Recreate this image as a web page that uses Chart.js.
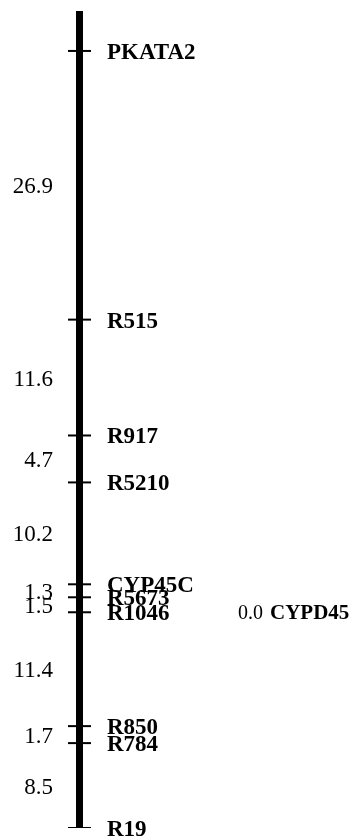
<!DOCTYPE html>
<html>
<head>
<meta charset="utf-8">
<script src="https://cdn.jsdelivr.net/npm/chart.js@4/dist/chart.umd.min.js"></script>
<style>
  html, body { margin: 0; padding: 0; background: #fff; }
  canvas { display: block; }
</style>
</head>
<body>
<canvas id="c" width="354" height="840"></canvas>
<script>
const markers   = ['PKATA2', 'R515', 'R917', 'R5210', 'CYP45C', 'R5673', 'R1046', 'R850', 'R784', 'R19'];
const intervals = [26.9, 11.6, 4.7, 10.2, 1.3, 1.5, 11.4, 1.7, 8.5];   // cM between consecutive markers
const intervalLabels = ['26.9', '11.6', '4.7', '10.2', '1.3', '1.5', '11.4', '1.7', '8.5'];
const sideMarkerName = ['CYPD45'];
const sideMarkerDist = ['0.0'];
const sideMarkerAt   = ['R1046'];
const chromStart = -4;       // chromosome bar drawn above first marker (cM)

// cumulative positions (cM) from the interval lengths
const positions = [0];
intervals.forEach((d, i) => positions.push(+(positions[i] + d).toFixed(2)));
const chromEnd = positions[positions.length - 1];

const tickPoints = positions.map(p => ({ x: 0, y: p }));

const SERIF = '"Liberation Serif", "Times New Roman", serif';

const labelPlugin = {
  id: 'labels',
  afterDatasetsDraw(chart) {
    const ctx = chart.ctx;
    const xs = chart.scales.x, ys = chart.scales.y;
    const bx = xs.getPixelForValue(0);
    ctx.save();
    ctx.fillStyle = '#000';
    ctx.textBaseline = 'alphabetic';
    // marker names
    ctx.font = 'bold 23px ' + SERIF;
    ctx.textAlign = 'left';
    markers.forEach((m, i) => {
      const y = ys.getPixelForValue(positions[i]);
      ctx.fillText(m, bx + 27.5, y + 8);
    });
    // interval distances
    ctx.font = '23px ' + SERIF;
    ctx.textAlign = 'right';
    intervalLabels.forEach((t, i) => {
      const y = ys.getPixelForValue((positions[i] + positions[i + 1]) / 2);
      ctx.fillText(t, bx - 26.5, y + 8);
    });
    // side marker
    sideMarkerName.forEach((n, k) => {
      const idx = markers.indexOf(sideMarkerAt[k]);
      const y = ys.getPixelForValue(positions[idx]);
      ctx.textAlign = 'left';
      ctx.font = '20px ' + SERIF;
      ctx.fillText(sideMarkerDist[k], bx + 158.5, y + 7);
      ctx.font = 'bold 21px ' + SERIF;
      ctx.fillText(n, bx + 190.5, y + 7);
    });
    ctx.restore();
  }
};

new Chart(document.getElementById('c'), {
  type: 'scatter',
  data: {
    datasets: [
      {
        type: 'line',
        data: [{ x: 0, y: chromStart }, { x: 0, y: chromEnd }],
        borderColor: '#000',
        borderWidth: 7,
        pointRadius: 0,
        fill: false
      },
      {
        data: tickPoints,
        pointStyle: 'line',
        pointRadius: 11.5,
        borderColor: '#000',
        backgroundColor: '#000',
        borderWidth: 2
      }
    ]
  },
  options: {
    responsive: false,
    animation: false,
    devicePixelRatio: 1,
    layout: { autoPadding: false, padding: { top: 11, bottom: 12, left: 0, right: 0 } },
    plugins: { legend: { display: false }, tooltip: { enabled: false } },
    scales: {
      x: { type: 'linear', display: false, min: -79.5, max: 274.5 },
      y: { type: 'linear', display: false, reverse: true, min: chromStart, max: chromEnd }
    }
  },
  plugins: [labelPlugin]
});
</script>
</body>
</html>
